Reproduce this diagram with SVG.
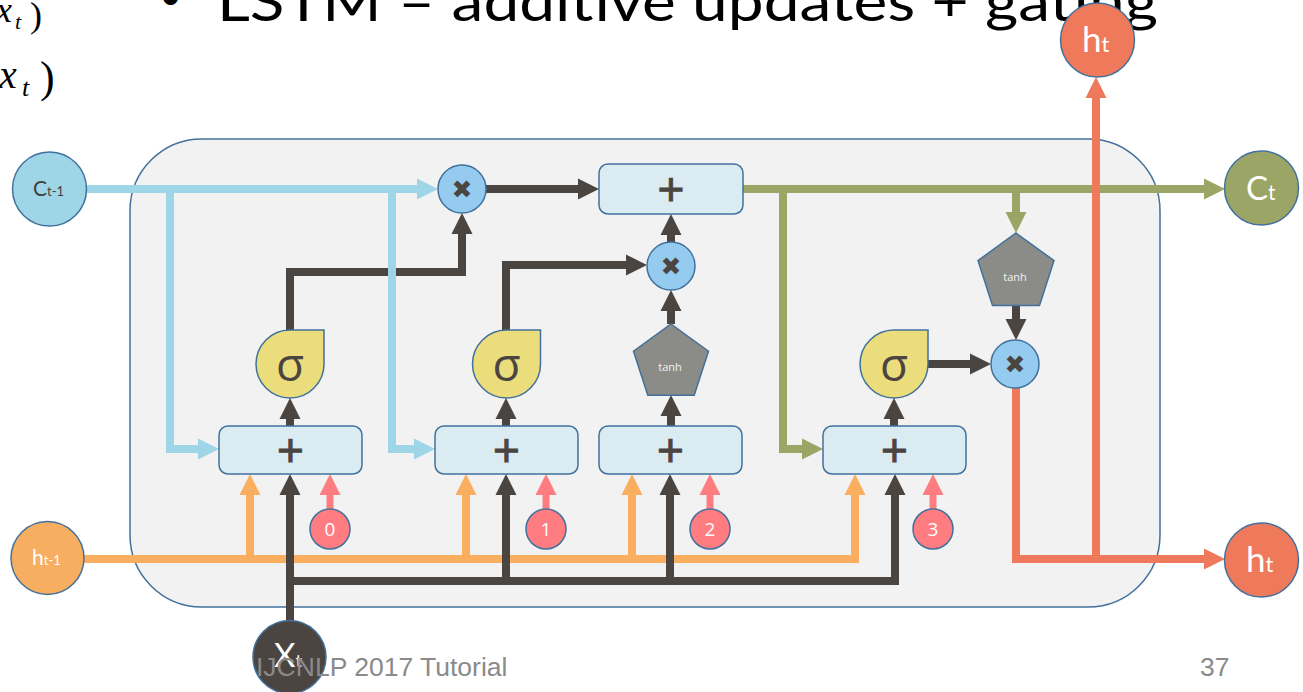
<svg xmlns="http://www.w3.org/2000/svg" width="1303" height="692" viewBox="0 0 1303 692">
  <style>
    .line { fill: none; stroke-width: 8; stroke-linejoin: miter; stroke-linecap: butt; }
    .blue { stroke: #9ed6e7; }
    .dark { stroke: #4b4542; }
    .olive { stroke: #9ba666; }
    .orange { stroke: #f9ae60; }
    .pink { stroke: #ff7c80; stroke-width: 7; }
    .red { stroke: #ef795b; }
    .edge { stroke: #41719c; stroke-width: 1.5; }
    .mul { fill: #94cbef; }
    .sum { fill: #daebf2; }
    .sig { fill: #ebdd7b; }
    .act { fill: #8b8b87; }
    .lbl { font-family: Lato, "Open Sans", "DejaVu Sans", sans-serif; }
    .op { font-family: "Liberation Sans", Arial, sans-serif; font-size: 46px; fill: #4b4542; stroke: #4b4542; stroke-width: 0.9; text-anchor: middle; }
    .x { font-family: "DejaVu Sans", sans-serif; font-size: 25px; fill: #4b4542; text-anchor: middle; }
    .sigma { font-family: "Open Sans", "DejaVu Sans", sans-serif; font-size: 46px; fill: #4b4542; text-anchor: middle; }
    .tanh { font-family: "Open Sans", "DejaVu Sans", sans-serif; font-size: 11px; fill: #f2f2f2; text-anchor: middle; }
    .bias { font-family: "Open Sans", "DejaVu Sans", sans-serif; font-size: 19px; fill: #ffffff; text-anchor: middle; }
    .foot { font-family: "Liberation Sans", Arial, sans-serif; font-size: 26.5px; fill: #8a8a8a; }
    .math { font-family: "Liberation Serif", "Times New Roman", serif; fill: #000000; }
  </style>
  <defs>
    <marker id="ah-blue" viewBox="0 0 10 10" refX="0" refY="5" markerUnits="userSpaceOnUse" markerWidth="21" markerHeight="22" orient="auto"><path d="M0,0 L10,5 L0,10 Z" fill="#9ed6e7"/></marker>
    <marker id="ah-dark" viewBox="0 0 10 10" refX="0" refY="5" markerUnits="userSpaceOnUse" markerWidth="21" markerHeight="22" orient="auto"><path d="M0,0 L10,5 L0,10 Z" fill="#4b4542"/></marker>
    <marker id="ah-olive" viewBox="0 0 10 10" refX="0" refY="5" markerUnits="userSpaceOnUse" markerWidth="21" markerHeight="22" orient="auto"><path d="M0,0 L10,5 L0,10 Z" fill="#9ba666"/></marker>
    <marker id="ah-orange" viewBox="0 0 10 10" refX="0" refY="5" markerUnits="userSpaceOnUse" markerWidth="21" markerHeight="22" orient="auto"><path d="M0,0 L10,5 L0,10 Z" fill="#f9ae60"/></marker>
    <marker id="ah-pink" viewBox="0 0 10 10" refX="0" refY="5" markerUnits="userSpaceOnUse" markerWidth="21" markerHeight="22" orient="auto"><path d="M0,0 L10,5 L0,10 Z" fill="#ff7c80"/></marker>
    <marker id="ah-red" viewBox="0 0 10 10" refX="0" refY="5" markerUnits="userSpaceOnUse" markerWidth="21" markerHeight="22" orient="auto"><path d="M0,0 L10,5 L0,10 Z" fill="#ef795b"/></marker>
  </defs>

  <rect width="1303" height="692" fill="#ffffff"/>

  <!-- equations clipped at the left margin -->
  <g id="equations">
    <text class="math" x="-4" y="22" font-size="36" font-style="italic">x</text>
    <text class="math" x="15" y="29" font-size="22" font-style="italic">t</text>
    <text class="math" x="30" y="27" font-size="36">)</text>
    <text class="math" x="-1" y="88" font-size="40" font-style="italic">x</text>
    <text class="math" x="22" y="96" font-size="26" font-style="italic">t</text>
    <text class="math" x="40" y="92" font-size="44">)</text>
  </g>

  <!-- slide title -->
  <g id="title" font-family="Lato, 'Open Sans', sans-serif" fill="#000000">
    <text x="159" y="10" font-size="40">•</text>
    <text x="217" y="21" font-size="54" textLength="941" lengthAdjust="spacingAndGlyphs">LSTM – additive updates + gating</text>
  </g>

  <!-- cell body -->
  <g id="cell">
    <rect x="130" y="139" width="1030" height="468" rx="72" ry="72" fill="#f2f2f2" class="edge"/>
  </g>

  <g id="connectors">
    <!-- previous hidden state -->
    <path class="line orange" d="M84,559 H855 V495" marker-end="url(#ah-orange)"/>
    <path class="line orange" d="M250,559 V495" marker-end="url(#ah-orange)"/>
    <path class="line orange" d="M466,559 V495" marker-end="url(#ah-orange)"/>
    <path class="line orange" d="M632,559 V495" marker-end="url(#ah-orange)"/>
    <!-- previous cell state -->
    <path class="line blue" d="M86,189 H417" marker-end="url(#ah-blue)"/>
    <!-- gate outputs and internal flow -->
    <path class="line dark" d="M290,330 V272 H462 V234" marker-end="url(#ah-dark)"/>
    <path class="line dark" d="M486,189 H578" marker-end="url(#ah-dark)"/>
    <path class="line dark" d="M506,330 V265 H626" marker-end="url(#ah-dark)"/>
    <path class="line dark" d="M671,242 V235" marker-end="url(#ah-dark)"/>
    <path class="line dark" d="M671,324 V311" marker-end="url(#ah-dark)"/>
    <path class="line dark" d="M290,426 V419" marker-end="url(#ah-dark)"/>
    <path class="line dark" d="M506,426 V419" marker-end="url(#ah-dark)"/>
    <path class="line dark" d="M671,426 V416" marker-end="url(#ah-dark)"/>
    <path class="line dark" d="M894,426 V419" marker-end="url(#ah-dark)"/>
    <path class="line dark" d="M928,364 H970" marker-end="url(#ah-dark)"/>
    <path class="line dark" d="M1016,306 V319" marker-end="url(#ah-dark)"/>
    <!-- peephole branches of the cell state -->
    <path class="line blue" d="M170,189 V449 H198" marker-end="url(#ah-blue)"/>
    <path class="line blue" d="M392,189 V449 H414" marker-end="url(#ah-blue)"/>
    <!-- input x_t -->
    <path class="line dark" d="M290,622 V495" marker-end="url(#ah-dark)"/>
    <path class="line dark" d="M290,581 H895 V495" marker-end="url(#ah-dark)"/>
    <path class="line dark" d="M506,581 V495" marker-end="url(#ah-dark)"/>
    <path class="line dark" d="M670,581 V495" marker-end="url(#ah-dark)"/>
    <!-- biases -->
    <path class="line pink" d="M330,509 V495" marker-end="url(#ah-pink)"/>
    <path class="line pink" d="M546,509 V495" marker-end="url(#ah-pink)"/>
    <path class="line pink" d="M710,509 V495" marker-end="url(#ah-pink)"/>
    <path class="line pink" d="M933,509 V495" marker-end="url(#ah-pink)"/>
    <!-- new cell state -->
    <path class="line olive" d="M743,189 H1204" marker-end="url(#ah-olive)"/>
    <path class="line olive" d="M783,189 V449 H802" marker-end="url(#ah-olive)"/>
    <path class="line olive" d="M1016,189 V212" marker-end="url(#ah-olive)"/>
    <!-- new hidden state -->
    <path class="line red" d="M1016,388 V559 H1204" marker-end="url(#ah-red)"/>
    <path class="line red" d="M1096,559 V98" marker-end="url(#ah-red)"/>
  </g>

  <!-- inputs and outputs -->
  <g id="c_prev">
    <circle cx="49.5" cy="189" r="37" fill="#9ed6e7" class="edge"/>
    <text class="lbl" x="33" y="196" font-size="21" fill="#404040">C<tspan font-size="13">t-1</tspan></text>
  </g>
  <g id="h_prev">
    <circle cx="47.5" cy="558" r="36.5" fill="#f8ae61" class="edge"/>
    <text class="lbl" x="32" y="565" font-size="21" fill="#ffffff">h<tspan font-size="13">t-1</tspan></text>
  </g>
  <g id="x_t">
    <circle cx="289.5" cy="657" r="36.5" fill="#4b4542" class="edge"/>
    <text class="lbl" x="274" y="667" font-size="33" fill="#ffffff">X<tspan font-size="18">t</tspan></text>
  </g>
  <g id="c_t">
    <circle cx="1261.5" cy="188" r="37" fill="#9ba666" class="edge"/>
    <text class="lbl" x="1246" y="200" font-size="33" fill="#ffffff">C<tspan font-size="21">t</tspan></text>
  </g>
  <g id="h_t_up">
    <circle cx="1097.5" cy="40" r="37" fill="#ef795b" class="edge"/>
    <text class="lbl" x="1082" y="52" font-size="35" fill="#ffffff">h<tspan font-size="22">t</tspan></text>
  </g>
  <g id="h_t_out">
    <circle cx="1261.5" cy="560" r="37" fill="#ef795b" class="edge"/>
    <text class="lbl" x="1246" y="572" font-size="35" fill="#ffffff">h<tspan font-size="22">t</tspan></text>
  </g>

  <!-- pointwise multiplications -->
  <g id="mul_forget">
    <circle cx="462" cy="189" r="24" class="mul edge"/>
    <text class="x" x="462" y="198">✖</text>
  </g>
  <g id="mul_input">
    <circle cx="671" cy="266" r="24" class="mul edge"/>
    <text class="x" x="671" y="275">✖</text>
  </g>
  <g id="mul_output">
    <circle cx="1015" cy="364" r="24" class="mul edge"/>
    <text class="x" x="1015" y="373">✖</text>
  </g>

  <!-- additions -->
  <g id="sum_cell">
    <rect x="599" y="164" width="144" height="50" rx="9" class="sum edge"/>
    <text class="op" x="671" y="205">+</text>
  </g>
  <g id="sum_forget">
    <rect x="219" y="426" width="143" height="48" rx="9" class="sum edge"/>
    <text class="op" x="290.5" y="466">+</text>
  </g>
  <g id="sum_input">
    <rect x="435" y="426" width="143" height="48" rx="9" class="sum edge"/>
    <text class="op" x="506.5" y="466">+</text>
  </g>
  <g id="sum_candidate">
    <rect x="599" y="426" width="143" height="48" rx="9" class="sum edge"/>
    <text class="op" x="670.5" y="466">+</text>
  </g>
  <g id="sum_output">
    <rect x="823" y="426" width="143" height="48" rx="9" class="sum edge"/>
    <text class="op" x="894.5" y="466">+</text>
  </g>

  <!-- sigmoid gates -->
  <g id="sigma_forget">
    <path d="M290,330 H324 V364 A34,34 0 1 1 290,330 Z" class="sig edge"/>
    <text class="sigma" x="290" y="381">σ</text>
  </g>
  <g id="sigma_input">
    <path d="M506.5,330 H540.5 V364 A34,34 0 1 1 506.5,330 Z" class="sig edge"/>
    <text class="sigma" x="506.5" y="381">σ</text>
  </g>
  <g id="sigma_output">
    <path d="M894,330 H928 V364 A34,34 0 1 1 894,330 Z" class="sig edge"/>
    <text class="sigma" x="894" y="381">σ</text>
  </g>

  <!-- tanh activations -->
  <g id="tanh_candidate">
    <polygon points="671,324 708.5,351.2 694.2,395.3 647.8,395.3 633.5,351.2" class="act edge"/>
    <text class="tanh" x="670" y="371">tanh</text>
  </g>
  <g id="tanh_cell">
    <polygon points="1016,233 1054,260.6 1039.5,305.4 992.5,305.4 978,260.6" class="act edge"/>
    <text class="tanh" x="1015" y="281">tanh</text>
  </g>

  <!-- bias inputs -->
  <g id="bias_0">
    <circle cx="330" cy="529" r="20" fill="#ff7c80" class="edge"/>
    <text class="bias" x="330" y="536">0</text>
  </g>
  <g id="bias_1">
    <circle cx="546" cy="529" r="20" fill="#ff7c80" class="edge"/>
    <text class="bias" x="546" y="536">1</text>
  </g>
  <g id="bias_2">
    <circle cx="710" cy="529" r="20" fill="#ff7c80" class="edge"/>
    <text class="bias" x="710" y="536">2</text>
  </g>
  <g id="bias_3">
    <circle cx="933" cy="529" r="20" fill="#ff7c80" class="edge"/>
    <text class="bias" x="933" y="536">3</text>
  </g>

  <!-- footer -->
  <g id="footer">
    <text class="foot" x="256" y="676">IJCNLP 2017 Tutorial</text>
    <text class="foot" x="1200" y="676">37</text>
  </g>
</svg>
